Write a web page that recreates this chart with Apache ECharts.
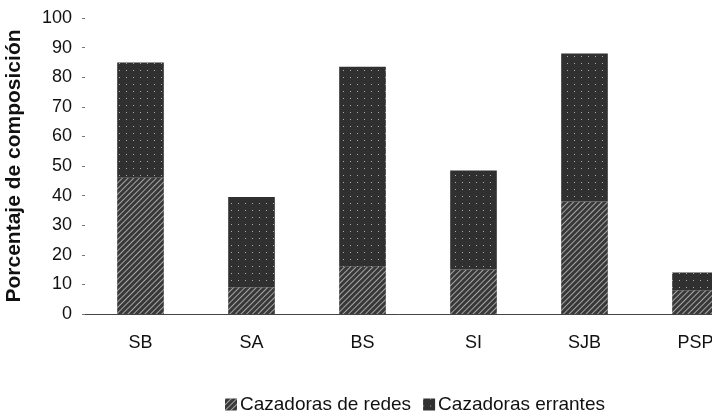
<!DOCTYPE html>
<html><head><meta charset="utf-8">
<script src="https://cdn.jsdelivr.net/npm/echarts@6/dist/echarts.min.js"></script>
<style>html,body{margin:0;padding:0;background:#fff}#c{width:712px;height:417px}</style>
</head><body><div id="c"></div>
<script>
const categories = ['SB', 'SA', 'BS', 'SI', 'SJB', 'PSP'];
const redes = [46, 9, 16, 15, 38, 8];
const errantes = [39, 30.5, 67.5, 33.5, 50, 6];
const seriesNames = ['Cazadoras de redes', 'Cazadoras errantes'];
const yTicks = [0, 10, 20, 30, 40, 50, 60, 70, 80, 90, 100];

const font = 'Arial, "Liberation Sans", sans-serif';
const chart = echarts.init(document.getElementById('c'));
chart.setOption({
  animation: false,
  backgroundColor: '#fff',
  grid: { left: 85, width: 666, top: 18, bottom: 103, outerBoundsMode: 'none', containLabel: false },
  legend: {
    left: 220, top: 390, itemWidth: 12, itemHeight: 12, itemGap: 12, icon: 'rect',
    textStyle: { fontFamily: font, fontSize: 19, color: '#111', padding: [0, 0, 0, -2] },
    data: seriesNames
  },
  xAxis: {
    type: 'category', data: categories,
    axisLine: { show: true, lineStyle: { color: '#444', width: 1 } },
    axisTick: { show: false },
    axisLabel: { fontFamily: font, fontSize: 18, color: '#111', margin: 20 }
  },
  yAxis: {
    type: 'value', min: yTicks[0], max: yTicks[yTicks.length - 1], interval: 10,
    name: 'Porcentaje de composición', nameLocation: 'middle', nameGap: 60,
    nameTextStyle: { fontFamily: font, fontSize: 21, fontWeight: 'bold', color: '#111' },
    axisLine: { show: false },
    axisTick: { show: true, length: 3, lineStyle: { color: '#777' } },
    splitLine: { show: false },
    axisLabel: { fontFamily: font, fontSize: 18, color: '#111', margin: 13 }
  },
  series: [
    {
      name: seriesNames[0], type: 'bar', stack: 'a', data: redes, barWidth: '42%',
      itemStyle: {
        color: '#383838',
        decal: { symbol: 'rect', color: 'rgba(255,255,255,0.55)', dashArrayX: [1, 0], dashArrayY: [1, 3], rotation: -Math.PI / 4, symbolSize: 1 }
      }
    },
    {
      name: seriesNames[1], type: 'bar', stack: 'a', data: errantes, barWidth: '42%',
      itemStyle: {
        color: '#303030',
        decal: { symbol: 'rect', color: 'rgba(255,255,255,0.6)', dashArrayX: [[1, 6]], dashArrayY: [1, 6], symbolSize: 1 }
      }
    }
  ]
});
</script></body></html>
